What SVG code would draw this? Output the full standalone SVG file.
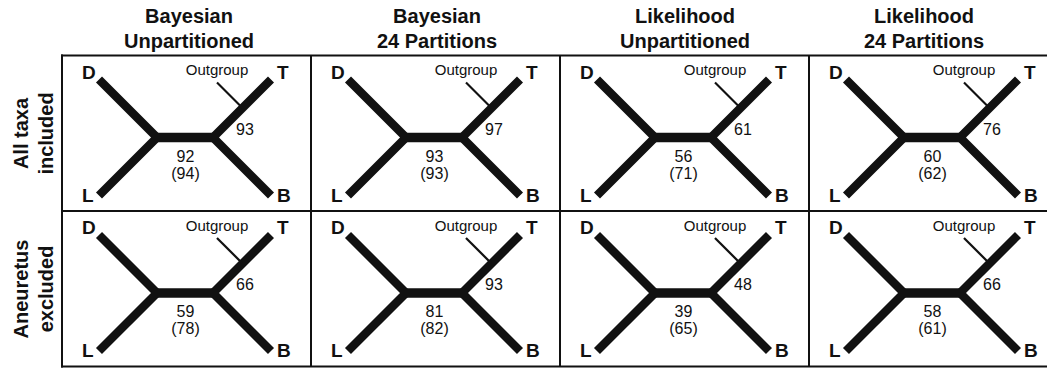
<svg xmlns="http://www.w3.org/2000/svg" xmlns:xlink="http://www.w3.org/1999/xlink" width="1047" height="370" viewBox="0 0 1047 370">
<style>
.hd{font-family:"Liberation Sans",Arial,sans-serif;font-weight:bold;font-size:20px;fill:#111;text-anchor:middle}
.tx{font-family:"Liberation Sans",Arial,sans-serif;font-weight:bold;font-size:19px;fill:#111}
.og{font-family:"Liberation Sans",Arial,sans-serif;font-size:15px;fill:#111;text-anchor:middle}
.nb{font-family:"Liberation Sans",Arial,sans-serif;font-size:16px;fill:#111}
.nc{font-family:"Liberation Sans",Arial,sans-serif;font-size:16px;fill:#111;text-anchor:middle}
.frame{stroke:#111;stroke-width:2;fill:none}
.arm{stroke:#111;stroke-width:8.5;fill:none;stroke-linejoin:miter;stroke-miterlimit:4;stroke-linecap:butt}
.bar{stroke:#111;stroke-width:9.5;fill:none}
.ogl{stroke:#111;stroke-width:2.2;fill:none}
</style>
<defs>
<g id="tree">
<path class="arm" d="M37,24 L95,82 L37,140"/>
<path class="arm" d="M209,24 L151,82 L209,140"/>
<line class="bar" x1="95" y1="82" x2="151" y2="82"/>
<line class="ogl" x1="155" y1="27" x2="180" y2="52"/>
<text class="tx" x="20" y="23">D</text>
<text class="tx" x="215" y="23">T</text>
<text class="tx" x="20" y="146">L</text>
<text class="tx" x="215" y="146">B</text>
<text class="og" x="155" y="19.5">Outgroup</text>
</g>
</defs>
<g id="headers">
<text class="hd" x="189" y="23">Bayesian</text>
<text class="hd" x="189" y="48">Unpartitioned</text>
<text class="hd" x="437" y="23">Bayesian</text>
<text class="hd" x="437" y="48">24 Partitions</text>
<text class="hd" x="685" y="23">Likelihood</text>
<text class="hd" x="685" y="48">Unpartitioned</text>
<text class="hd" x="924" y="23">Likelihood</text>
<text class="hd" x="924" y="48">24 Partitions</text>
</g>
<g id="rowlabels">
<g transform="translate(28,133.5) rotate(-90)"><text class="hd" x="0" y="0">All taxa</text></g>
<g transform="translate(53,133.5) rotate(-90)"><text class="hd" x="0" y="0">included</text></g>
<g transform="translate(28,289) rotate(-90)"><text class="hd" x="0" y="0">Aneuretus</text></g>
<g transform="translate(53,289) rotate(-90)"><text class="hd" x="0" y="0">excluded</text></g>
</g>
<g id="grid">
<line class="frame" x1="61" y1="55.5" x2="1047" y2="55.5"/>
<line class="frame" x1="61" y1="211" x2="1047" y2="211"/>
<line class="frame" x1="61" y1="366.5" x2="1047" y2="366.5"/>
<line class="frame" x1="62" y1="54.5" x2="62" y2="367.5"/>
<line class="frame" x1="311" y1="55.5" x2="311" y2="366.5"/>
<line class="frame" x1="560" y1="55.5" x2="560" y2="366.5"/>
<line class="frame" x1="809" y1="55.5" x2="809" y2="366.5"/>
</g>
<g id="cell-r1c1" transform="translate(62,55.5)">
<use xlink:href="#tree" href="#tree"/>
<text class="nb" x="174" y="79">93</text>
<text class="nc" x="123.5" y="106">92</text>
<text class="nc" x="123.5" y="123">(94)</text>
</g>
<g id="cell-r1c2" transform="translate(311,55.5)">
<use xlink:href="#tree" href="#tree"/>
<text class="nb" x="174" y="79">97</text>
<text class="nc" x="123.5" y="106">93</text>
<text class="nc" x="123.5" y="123">(93)</text>
</g>
<g id="cell-r1c3" transform="translate(560,55.5)">
<use xlink:href="#tree" href="#tree"/>
<text class="nb" x="174" y="79">61</text>
<text class="nc" x="123.5" y="106">56</text>
<text class="nc" x="123.5" y="123">(71)</text>
</g>
<g id="cell-r1c4" transform="translate(809,55.5)">
<use xlink:href="#tree" href="#tree"/>
<text class="nb" x="174" y="79">76</text>
<text class="nc" x="123.5" y="106">60</text>
<text class="nc" x="123.5" y="123">(62)</text>
</g>
<g id="cell-r2c1" transform="translate(62,211)">
<use xlink:href="#tree" href="#tree"/>
<text class="nb" x="174" y="79">66</text>
<text class="nc" x="123.5" y="106">59</text>
<text class="nc" x="123.5" y="123">(78)</text>
</g>
<g id="cell-r2c2" transform="translate(311,211)">
<use xlink:href="#tree" href="#tree"/>
<text class="nb" x="174" y="79">93</text>
<text class="nc" x="123.5" y="106">81</text>
<text class="nc" x="123.5" y="123">(82)</text>
</g>
<g id="cell-r2c3" transform="translate(560,211)">
<use xlink:href="#tree" href="#tree"/>
<text class="nb" x="174" y="79">48</text>
<text class="nc" x="123.5" y="106">39</text>
<text class="nc" x="123.5" y="123">(65)</text>
</g>
<g id="cell-r2c4" transform="translate(809,211)">
<use xlink:href="#tree" href="#tree"/>
<text class="nb" x="174" y="79">66</text>
<text class="nc" x="123.5" y="106">58</text>
<text class="nc" x="123.5" y="123">(61)</text>
</g>
</svg>
